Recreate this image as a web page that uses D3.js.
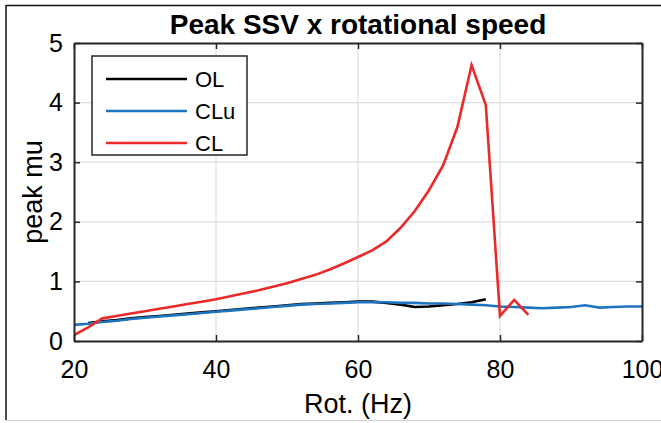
<!DOCTYPE html>
<html>
<head>
<meta charset="utf-8">
<script src="https://cdn.jsdelivr.net/npm/d3@7"></script>
<style>
html,body{margin:0;padding:0;background:#fff;}
svg{display:block;}
text{font-family:"Liberation Sans",Arial,Helvetica,sans-serif;fill:#000;}
</style>
</head>
<body>
<svg id="chart" width="661" height="423"></svg>
<script>
// ---- data ----
const olHz   = [22,24,26,28,30,32,34,36,38,40,42,44,46,48,50,52,54,56,58,60,62,64,66,68,70,72,74,76,78];
const olVal  = [0.30,0.33,0.35,0.38,0.40,0.42,0.44,0.46,0.48,0.50,0.52,0.54,0.56,0.58,0.60,0.62,0.63,0.64,0.65,0.66,0.66,0.64,0.61,0.57,0.58,0.60,0.62,0.65,0.70];
const cluHz  = [20,22,24,26,28,30,32,34,36,38,40,42,44,46,48,50,52,54,56,58,60,62,64,66,68,70,72,74,76,78,80,82,84,86,88,90,92,94,96,98,100];
const cluVal = [0.27,0.29,0.32,0.34,0.37,0.39,0.41,0.43,0.45,0.47,0.49,0.51,0.53,0.55,0.57,0.59,0.61,0.62,0.63,0.64,0.65,0.65,0.65,0.64,0.64,0.63,0.63,0.62,0.61,0.60,0.58,0.57,0.56,0.55,0.56,0.57,0.60,0.56,0.57,0.58,0.58];
const clHz   = [20,22,24,26,28,30,32,34,36,38,40,42,44,46,48,50,52,54,56,58,60,62,64,66,68,70,72,74,76,78,80,82,84];
const clVal  = [0.10,0.23,0.38,0.42,0.46,0.50,0.54,0.58,0.62,0.66,0.70,0.75,0.80,0.85,0.91,0.97,1.04,1.11,1.20,1.30,1.41,1.52,1.67,1.90,2.18,2.53,2.95,3.59,4.63,3.96,0.42,0.69,0.44];
const seriesNames = ["OL","CLu","CL"];
const xTicks = [20,40,60,80,100];
const yTicks = [0,1,2,3,4,5];
const titleText = "Peak SSV x rotational speed";
const xLabel = "Rot. (Hz)";
const yLabel = "peak mu";

// ---- layout ----
const W = 661, H = 423;
const L = 74, R = 642, T = 43, B = 341;
const colors = {OL:"#000000", CLu:"#1f74c0", CL:"#ea2a2a"};
const axisCol = "#262626";

const svg = d3.select("#chart");
svg.append("rect").attr("width",W).attr("height",H).attr("fill","#fff");

// figure border
svg.append("line").attr("x1",6).attr("x2",W).attr("y1",5.5).attr("y2",5.5).attr("stroke","#111").attr("stroke-width",1.5);
svg.append("line").attr("x1",6).attr("x2",6).attr("y1",5).attr("y2",420).attr("stroke","#111").attr("stroke-width",1.5);
svg.append("line").attr("x1",6).attr("x2",W).attr("y1",420.5).attr("y2",420.5).attr("stroke","#d0d0d0").attr("stroke-width",1);

const x = d3.scaleLinear().domain([20,100]).range([L,R]);
const y = d3.scaleLinear().domain([0,5]).range([B,T]);

// grid
const g = svg.append("g");
g.selectAll(".gx").data(xTicks.slice(1,-1)).enter().append("line")
  .attr("x1",d=>x(d)).attr("x2",d=>x(d)).attr("y1",T).attr("y2",B)
  .attr("stroke","#dedede").attr("stroke-width",1.2);
g.selectAll(".gy").data(yTicks.slice(1,-1)).enter().append("line")
  .attr("y1",d=>y(d)).attr("y2",d=>y(d)).attr("x1",L).attr("x2",R)
  .attr("stroke","#dedede").attr("stroke-width",1.2);

// lines
const line = d3.line().x(d=>x(d[0])).y(d=>y(d[1]));
const series = [
  {name:"OL", pts:d3.zip(olHz, olVal)},
  {name:"CLu", pts:d3.zip(cluHz, cluVal)},
  {name:"CL", pts:d3.zip(clHz, clVal)}
];
svg.append("defs").append("clipPath").attr("id","clip").append("rect")
  .attr("x",L).attr("y",T).attr("width",R-L).attr("height",B-T);
svg.append("g").attr("clip-path","url(#clip)").selectAll("path").data(series).enter().append("path")
  .attr("d",d=>line(d.pts)).attr("fill","none")
  .attr("stroke",d=>colors[d.name]).attr("stroke-width",2.6)
  .attr("stroke-linejoin","miter");

// axes (inner ticks, box)
const fs = 25;
const axB = d3.axisBottom(x).tickValues(xTicks).tickSizeInner(-6).tickSizeOuter(0).tickPadding(19).tickFormat(d3.format("d"));
const axL = d3.axisLeft(y).tickValues(yTicks).tickSizeInner(-6).tickSizeOuter(0).tickPadding(11).tickFormat(d3.format("d"));
const axT = d3.axisTop(x).tickValues(xTicks).tickSizeInner(-6).tickSizeOuter(0).tickFormat("");
const axR = d3.axisRight(y).tickValues(yTicks).tickSizeInner(-6).tickSizeOuter(0).tickFormat("");
function style(sel){
  sel.selectAll("path.domain").attr("stroke",axisCol).attr("stroke-width",2);
  sel.selectAll(".tick line").attr("stroke",axisCol).attr("stroke-width",1.5);
  sel.selectAll("text").attr("font-size",fs).attr("fill","#000").attr("font-family","Liberation Sans, Arial, sans-serif");
}
svg.append("g").attr("transform",`translate(0,${B})`).call(axB).call(style);
svg.append("g").attr("transform",`translate(${L},0)`).call(axL).call(style);
svg.append("g").attr("transform",`translate(0,${T})`).call(axT).call(style);
svg.append("g").attr("transform",`translate(${R},0)`).call(axR).call(style);

// title and labels
svg.append("text").attr("x",(L+R)/2).attr("y",34).attr("text-anchor","middle")
  .attr("font-size",28).attr("font-weight","bold").text(titleText);
svg.append("text").attr("x",(L+R)/2).attr("y",413).attr("text-anchor","middle")
  .attr("font-size",27).text(xLabel);
svg.append("text").attr("transform",`translate(42,${(T+B)/2}) rotate(-90)`).attr("text-anchor","middle")
  .attr("font-size",27).text(yLabel);

// legend
const lg = svg.append("g");
lg.append("rect").attr("x",92).attr("y",56).attr("width",155).attr("height",99)
  .attr("fill","#fff").attr("stroke",axisCol).attr("stroke-width",1.5);
const ly = [79,111,143];
seriesNames.forEach((n,i)=>{
  lg.append("line").attr("x1",106).attr("x2",187).attr("y1",ly[i]).attr("y2",ly[i])
    .attr("stroke",colors[n]).attr("stroke-width",2.6);
  lg.append("text").attr("x",195).attr("y",ly[i]+8).attr("font-size",22).text(n);
});
</script>
</body>
</html>
